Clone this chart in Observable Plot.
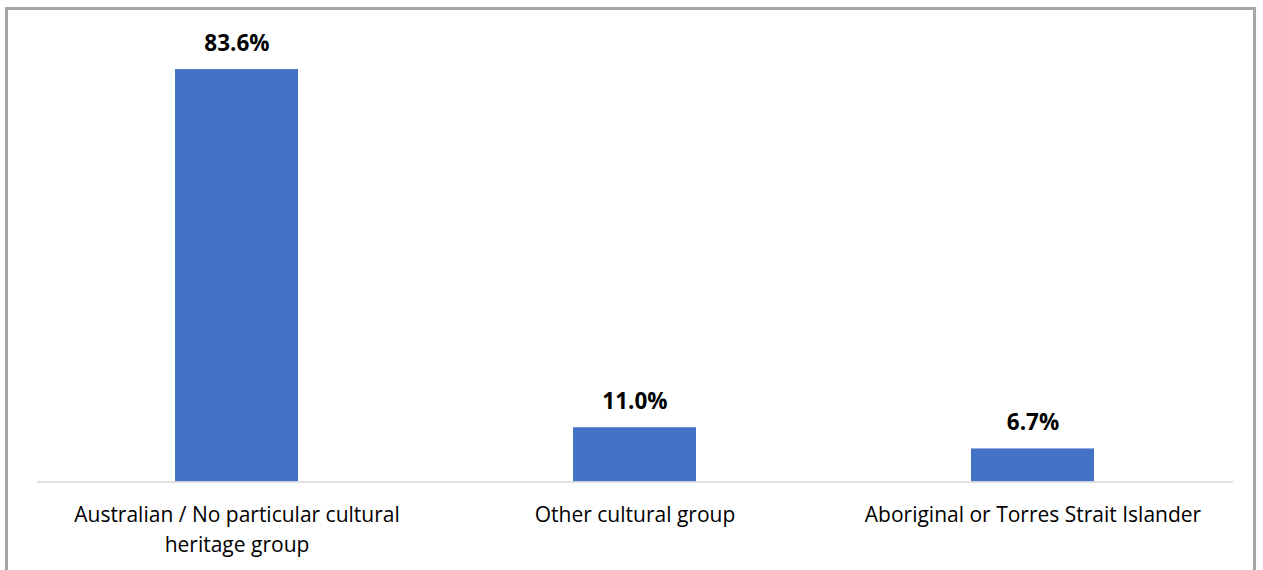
<!DOCTYPE html>
<html>
<head>
<meta charset="utf-8">
<script src="https://cdn.jsdelivr.net/npm/d3@7"></script>
<script src="https://cdn.jsdelivr.net/npm/@observablehq/plot@0.6"></script>
<style>
  html, body { margin: 0; padding: 0; background: #fff; width: 1263px; height: 570px; overflow: hidden; }
  #frame { position: absolute; left: 5px; top: 7px; width: 1251px; height: 600px; border: 3px solid #a6a6a6; box-sizing: border-box; }
  #chart { position: absolute; left: 0; top: 0; }
</style>
</head>
<body>
<div id="frame"></div>
<div id="chart"></div>
<script>
const categories = ["Australian", "Other", "Aboriginal"];
const tickLabels = ["Australian / No particular cultural\nheritage group", "Other cultural group", "Aboriginal or Torres Strait Islander"];
const values = [83.6, 11.0, 6.7];
const valueLabels = ["83.6%", "11.0%", "6.7%"];

const data = categories.map((c, i) => ({cat: c, value: values[i], label: valueLabels[i], tick: tickLabels[i]}));
const tickMap = new Map(categories.map((c, i) => [c, tickLabels[i]]));

const chart = Plot.plot({
  width: 1263,
  height: 570,
  marginLeft: 37,
  marginRight: 30,
  marginTop: 37.5,
  marginBottom: 88.5,
  style: {fontFamily: "'Open Sans', sans-serif", background: "transparent", overflow: "visible"},
  x: {domain: categories, paddingInner: 0.69, paddingOuter: 0.345, label: null},
  y: {domain: [0, 90], axis: null},
  marks: [
    Plot.barY(data, {x: "cat", y: "value", fill: "#4472C4"}),
    Plot.ruleY([0], {stroke: "#d9d9d9", strokeWidth: 1.5}),
    Plot.text(data, {x: "cat", y: "value", text: "label", lineAnchor: "bottom", dy: -19, fontSize: 22.5, fontWeight: "bold", fill: "#000"}),
    Plot.axisX({tickSize: 0, tickPadding: 19, tickFormat: d => tickMap.get(d), fontSize: 21, lineHeight: 1.42, fill: "#000", label: null, lineAnchor: "top"})
  ]
});
document.getElementById("chart").appendChild(chart);
</script>
</body>
</html>
